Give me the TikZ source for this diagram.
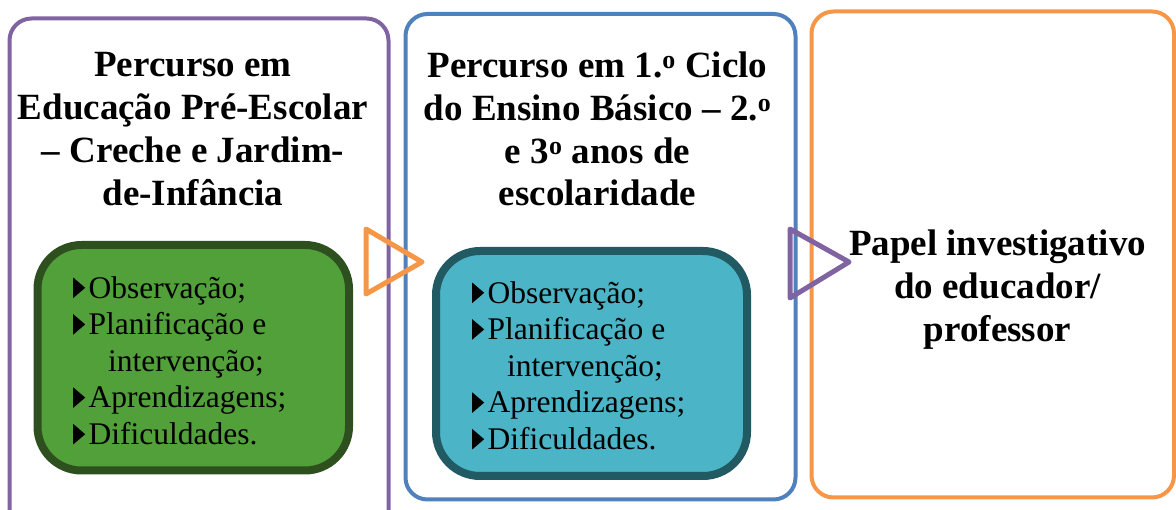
\documentclass[tikz,border=0pt]{standalone}
\usepackage{fontspec}
\setmainfont{Liberation Serif}
\definecolor{cpurple}{HTML}{8064A2}
\definecolor{cblue}{HTML}{4F81BD}
\definecolor{corange}{HTML}{F79646}
\definecolor{gfill}{HTML}{52A03A}
\definecolor{gdraw}{HTML}{2E501E}
\definecolor{tfill}{HTML}{4BB4C6}
\definecolor{tdraw}{HTML}{215A62}
\newcommand\blt{\tikz[baseline=0pt,x=1pt,y=1pt]\fill[black] (0,0) -- (0,20.5) -- (12,10.25) -- cycle;\hspace{3.5pt}}
\begin{document}
\begin{tikzpicture}[x=1pt,y=-1pt,
  outerbox/.style={draw, line width=4pt, rounded corners=22pt},
  innerbox/.style={line width=8pt, rounded corners=44pt},
  tri/.style={line width=5pt, line join=round},
  title/.style={inner sep=0pt, align=center, anchor=north, font=\fontsize{37}{42.7}\selectfont\bfseries},
  listtxt/.style={inner sep=0pt, align=left, anchor=north west, font=\fontsize{31.5}{36.6}\selectfont}]
\useasboundingbox (0,0) rectangle (1176,510);
\begin{scope}
\clip (0,0) rectangle (1176,510);
\draw[outerbox, cpurple] (9.5,18.5) rectangle (388.5,540);
\draw[outerbox, cblue] (405.5,14) rectangle (795.5,499.5);
\draw[outerbox, corange] (811.5,11.5) rectangle (1174,497.5);
\end{scope}
\draw[innerbox, draw=gdraw, fill=gfill] (37.5,245) rectangle (349,470.5);
\draw[innerbox, draw=tdraw, fill=tfill] (436,251) rectangle (747,476);
\node[title] (t1) at (193,52.5) {Percurso em\\Educação Pré-Escolar\\– Creche e Jardim-\\de-Infância};
\node[title] (t2) at (597.5,52) {Percurso em 1.\textsuperscript{o} Ciclo\\do Ensino Básico – 2.\textsuperscript{o}\\e 3\textsuperscript{o} anos de\\escolaridade};
\node[title] (t3) at (997.5,230) {Papel investigativo\\do educador/\\professor};
\node[listtxt] (l1) at (73,276) {\blt Observação;\\\blt Planificação e\\\hspace{35pt}intervenção;\\\blt Aprendizagens;\\\blt Dificuldades.};
\node[listtxt] (l2) at (472,281) {\blt Observação;\\\blt Planificação e\\\hspace{35pt}intervenção;\\\blt Aprendizagens;\\\blt Dificuldades.};
\coordinate (a1) at (366,229);
\coordinate (a2) at (422,262);
\coordinate (a3) at (366,294);
\draw[tri, corange] (a1) -- (a2) -- (a3) -- cycle;
\coordinate (b1) at (790,229);
\coordinate (b2) at (849,262);
\coordinate (b3) at (790,298);
\draw[tri, cpurple] (b1) -- (b2) -- (b3) -- cycle;
\end{tikzpicture}
\end{document}
